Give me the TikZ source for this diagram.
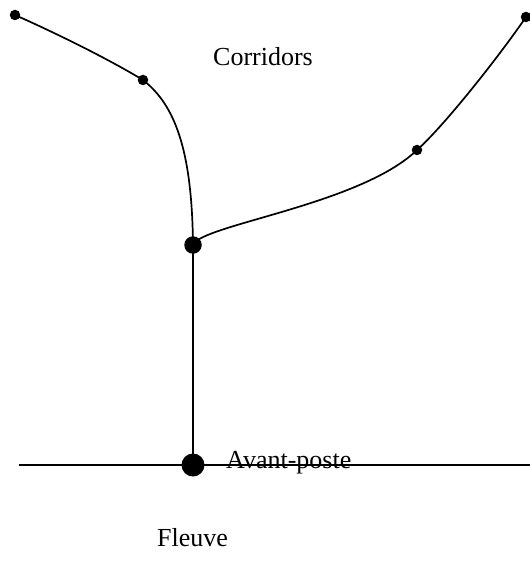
\documentclass[tikz,border=0pt]{standalone}
\usepackage{fontspec}
\setmainfont{Liberation Serif}
\begin{document}
\begin{tikzpicture}[x=1bp,y=-1bp,
  line/.style={line width=1.7bp, black},
  smalldot/.style={circle, fill=black, inner sep=0pt, minimum size=10.5bp},
  middot/.style={circle, fill=black, inner sep=0pt, minimum size=17.5bp},
  bigdot/.style={circle, fill=black, inner sep=0pt, minimum size=23bp},
  lbl/.style={font=\fontsize{26bp}{30bp}\selectfont, inner sep=0pt, anchor=base west}]
\useasboundingbox (0,0) rectangle (530,584);
\coordinate (rl) at (19,465);
\coordinate (rr) at (530,465);
\node[smalldot] (a) at (15,15) {};
\node[smalldot] (b) at (143,80) {};
\node[middot] (j) at (193,245) {};
\node[smalldot] (c) at (417,150) {};
\node[smalldot] (d) at (526,17) {};
\node[bigdot] (o) at (193,465) {};
\draw[line] (rl) -- (rr);
\draw[line] (a.center) .. controls (60,35) and (110,60) .. (b.center)
  .. controls (175,105) and (192,150) .. (j.center);
\draw[line] (j.center) -- (o.center);
\draw[line] (j.center) .. controls (200,225) and (360,205) .. (c.center)
  .. controls (445,125) and (500,55) .. (d.center);
\node[lbl] (cor) at (213,66) {Corridors};
\node[lbl] (av) at (226,468) {Avant-poste};
\node[lbl] (fl) at (157,546) {Fleuve};
\end{tikzpicture}
\end{document}
